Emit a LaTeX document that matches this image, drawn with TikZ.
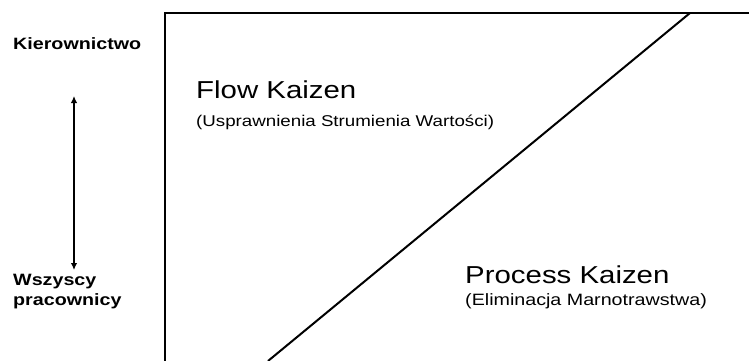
\documentclass[tikz,border=0pt]{standalone}
\usepackage{fontspec}
\setmainfont{Liberation Sans}
\newfontfamily\wfont[FakeStretch=1.2]{Liberation Sans}
\usetikzlibrary{arrows.meta}
\begin{document}
\begin{tikzpicture}[x=1pt,y=-1pt,
  lbl/.style={inner sep=0pt,anchor=base west,font=\wfont\bfseries\fontsize{16.4}{20}\selectfont,align=left},
  big/.style={inner sep=0pt,anchor=base west,font=\wfont\fontsize{24.5}{28}\selectfont},
  small/.style={inner sep=0pt,anchor=base west,font=\wfont\fontsize{#1}{19}\selectfont},
  frame/.style={line width=2pt},
  axis/.style={line width=1.8pt,{Latex[length=7pt,width=6.5pt]}-{Latex[length=7pt,width=6.5pt]}}]
\useasboundingbox (0,0) rectangle (749,361);
\clip (0,0) rectangle (749,361);
\coordinate (bl) at (165,365);
\coordinate (tl) at (165,13);
\coordinate (tr) at (755,13);
\coordinate (dtop) at (690,13);
\coordinate (dbot) at (268,361);
\draw[frame] (bl) -- (tl) -- (tr);
\draw[frame] (dtop) -- (dbot);
\node[lbl] (kier) at (13,49) {Kierownictwo};
\node[lbl] (wsz) at (13,305) {Wszyscy\\pracownicy};
\coordinate (atop) at (74,96);
\coordinate (abot) at (74,270);
\draw[axis] (atop) -- (abot);
\node[big] (flow) at (196,98) {Flow Kaizen};
\node[small=15.6] (flowsub) at (196,126) {(Usprawnienia Strumienia Wartości)};
\node[big] (proc) at (465,283) {Process Kaizen};
\node[small=16.4] (procsub) at (465,305) {(Eliminacja Marnotrawstwa)};
\end{tikzpicture}
\end{document}
